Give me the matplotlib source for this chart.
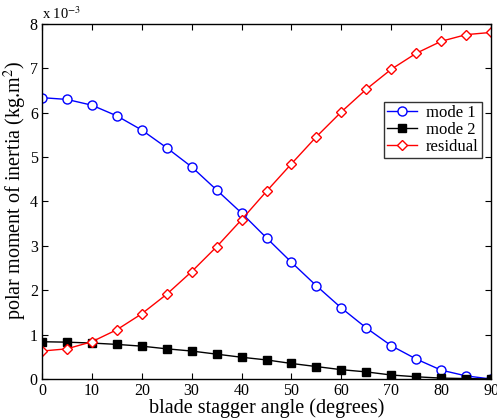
import matplotlib
matplotlib.use('Agg')
import matplotlib.pyplot as plt

plt.rcParams['font.family'] = ['Liberation Serif', 'DejaVu Serif']
plt.rcParams['mathtext.fontset'] = 'stix'

# blade stagger angle (degrees)
angle = [0, 5, 10, 15, 20, 25, 30, 35, 40, 45, 50, 55, 60, 65, 70, 75, 80, 85, 90]
# polar moment of inertia, units of 1e-3 kg.m^2
mode1 = [6.34, 6.30, 6.17, 5.93, 5.61, 5.21, 4.78, 4.26, 3.74, 3.18, 2.63, 2.10,
         1.60, 1.15, 0.75, 0.45, 0.20, 0.07, 0.0]
mode2 = [0.84, 0.83, 0.81, 0.78, 0.74, 0.68, 0.63, 0.56, 0.49, 0.43, 0.35, 0.28,
         0.21, 0.16, 0.09, 0.05, 0.02, 0.01, 0.0]
residual = [0.63, 0.68, 0.84, 1.11, 1.47, 1.91, 2.42, 2.98, 3.59, 4.23, 4.85, 5.46,
            6.02, 6.53, 6.98, 7.34, 7.61, 7.76, 7.81]

fig = plt.figure(figsize=(4.97, 4.18), dpi=100)
ax = fig.add_axes([0.0845, 0.0933, 0.9035, 0.8493])

ax.plot(angle, mode1, color='blue', lw=1, marker='o', ms=6.5,
        mfc='white', mec='blue', mew=1, label='mode 1')
ax.plot(angle, mode2, color='black', lw=1, marker='s', ms=5.5,
        mfc='black', mec='black', label='mode 2')
ax.plot(angle, residual, color='red', lw=1, marker='D', ms=5.5,
        mfc='white', mec='red', mew=1, label='residual')

ax.set_xlim(0, 90)
ax.set_ylim(0, 8)
ax.set_xticks(range(0, 91, 10))
ax.set_yticks(range(0, 9))
ax.tick_params(direction='in', top=True, right=True, labelsize=11.5, length=4, pad=3)
for s in ax.spines.values():
    s.set_linewidth(1)

ax.set_xlabel('blade stagger angle (degrees)', fontsize=14.5, labelpad=-1)
ax.set_ylabel('polar moment of inertia (kg.m$^2$)', fontsize=14.5)
ax.yaxis.set_label_coords(-0.028, 0.53)
ax.text(0.0, 1.005, 'x 10$^{-3}$', transform=ax.transAxes, fontsize=10.5,
        ha='left', va='bottom')

leg = ax.legend(loc='lower right', bbox_to_anchor=(0.979, 0.6225), fontsize=12,
                frameon=True, fancybox=False, edgecolor='black',
                borderpad=0.2, labelspacing=0.05, handlelength=1.8,
                handletextpad=0.5, borderaxespad=0)
leg.get_frame().set_linewidth(1)

fig.savefig('out.png', dpi=100)
